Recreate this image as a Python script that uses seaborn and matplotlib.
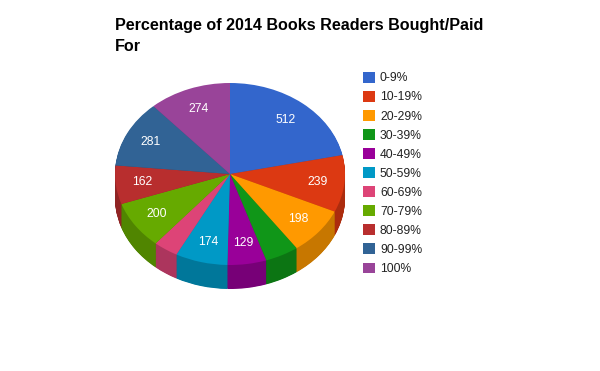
import numpy as np
import matplotlib
matplotlib.use("Agg")
import matplotlib.pyplot as plt
import seaborn as sns
from matplotlib.patches import Patch

categories = ['0-9%', '10-19%', '20-29%', '30-39%', '40-49%', '50-59%',
              '60-69%', '70-79%', '80-89%', '90-99%', '100%']
# 30-39% and 60-69% have no printed label
values = [512, 239, 198, 112, 129, 174, 82, 200, 162, 281, 274]
hex_colors = ['#3366cc', '#dc3912', '#ff9900', '#109618', '#990099', '#0099c6',
              '#dd4477', '#66aa00', '#b82e2e', '#316395', '#994499']

sns.set_theme(style="white")
plt.rcParams['font.family'] = ['Liberation Sans', 'DejaVu Sans']

colors = sns.color_palette(hex_colors)
dark = [tuple(np.array(c) * 0.78) for c in colors]

W, H = 600, 371
fig = plt.figure(figsize=(W / 100, H / 100), dpi=100)

# squashed pie: axes stretched so the circle shows as an ellipse
rx, ry, cx, cy, depth = 115, 91, 230, 174, 24
ax = fig.add_axes([(cx - rx) / W, 1 - (cy + ry + depth) / H,
                   2 * rx / W, (2 * ry + depth) / H])

# side wall, stacked darker pies
for off in np.linspace(depth / ry, 0.01, 50):
    ax.pie(values, colors=dark, startangle=90, counterclock=False, radius=1,
           center=(0, -off), wedgeprops=dict(linewidth=0.4, edgecolor='none'))

wedges, _ = ax.pie(values, colors=colors, startangle=90, counterclock=False, radius=1,
                   center=(0, 0), wedgeprops=dict(linewidth=0))
ax.set_aspect('auto')
ax.set_xlim(-1, 1)
ax.set_ylim(-1 - depth / ry, 1)

for w, val in zip(wedges, values):
    if val < 120:
        continue
    mid = np.deg2rad((w.theta1 + w.theta2) / 2)
    ax.text(0.77 * np.cos(mid), 0.77 * np.sin(mid), str(val), color='white',
            fontsize=8.8, ha='center', va='center')

handles = [Patch(facecolor=c, edgecolor='none', label=l) for c, l in zip(colors, categories)]
fig.legend(handles=handles, loc='upper left', bbox_to_anchor=(361 / W, 1 - 70 / H),
           frameon=False, fontsize=8.7, handlelength=1.0, handleheight=1.0,
           handletextpad=0.42, labelspacing=0.54, borderpad=0.15, borderaxespad=0,
           labelcolor='#222222')

fig.text(115 / W, 1 - 18 / H, "Percentage of 2014 Books Readers Bought/Paid\nFor",
         fontsize=11.6, fontweight='bold', color='black', va='top', ha='left', linespacing=1.5)

fig.savefig("out.png", dpi=100)
